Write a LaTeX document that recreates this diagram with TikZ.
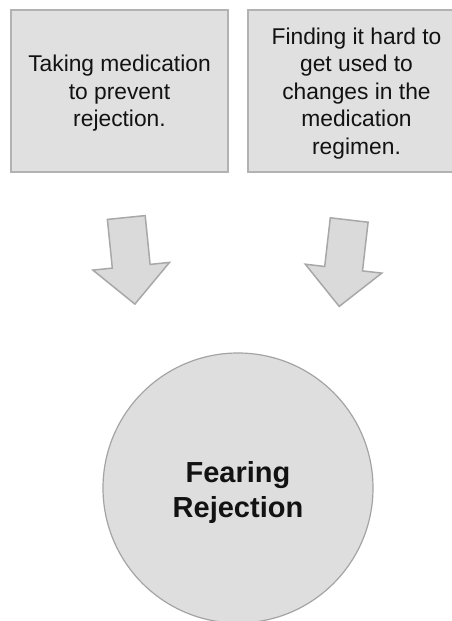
\documentclass[tikz,border=0pt]{standalone}
\usepackage{fontspec}
\setmainfont{Liberation Sans}
\definecolor{boxfill}{HTML}{E0E0E0}
\definecolor{boxline}{HTML}{B2B2B2}
\definecolor{arrowfill}{HTML}{DADADA}
\definecolor{arrowline}{HTML}{A8A8A8}
\definecolor{circfill}{HTML}{DEDEDE}
\definecolor{circline}{HTML}{A4A4A4}
\definecolor{ink}{HTML}{121212}
% struts fixing the top and bottom of a text block
\newcommand{\topstrut}[1]{\rule{0pt}{#1}}
\newcommand{\botstrut}[1]{\rule[-#1]{0pt}{0pt}}
\tikzset{
  infobox/.style={draw=boxline, fill=boxfill, line width=1.5pt,
    minimum width=217pt, minimum height=162pt, inner sep=0pt,
    align=center, text=ink,
    font=\fontsize{22.8pt}{27.5pt}\selectfont},
  blockarrow/.style={draw=arrowline, fill=arrowfill, line width=1.5pt,
    line join=miter},
  focus/.style={circle, draw=circline, fill=circfill, line width=1.2pt,
    minimum size=270pt, inner sep=0pt, align=center, text=ink,
    font=\fontsize{29pt}{35pt}\selectfont\bfseries}
}
\begin{document}
\begin{tikzpicture}[x=1pt, y=-1pt]
\useasboundingbox (0,0) rectangle (452,621);
\clip (0,0) rectangle (452,621);
\fill[white] (0,0) rectangle (452,621);

% two context boxes
\node[infobox] (medication) at (119.5,91)
  {\topstrut{22pt}Taking medication\\to prevent\\rejection.\botstrut{6pt}};
\node[infobox] (regimen) at (356.5,91)
  {\topstrut{22pt}Finding it hard to\\get used to\\changes in the\\medication\\regimen.\botstrut{6pt}};

% block arrows pointing down to the central theme
\draw[blockarrow] (107.4,219.4) -- (145.2,215.6) -- (150.1,264.4)
  -- (169.5,262.4) -- (134.9,304.1) -- (92.9,270.1) -- (112.3,268.1) -- cycle;
\draw[blockarrow] (330.3,217.8) -- (368.1,222.2) -- (362.5,270.9)
  -- (381.8,273.1) -- (339.2,306.4) -- (305.3,264.2) -- (324.7,266.5) -- cycle;

% central theme
\node[focus] (fear) at (238,488)
  {\topstrut{30pt}Fearing\\Rejection\botstrut{7pt}};
\end{tikzpicture}
\end{document}
